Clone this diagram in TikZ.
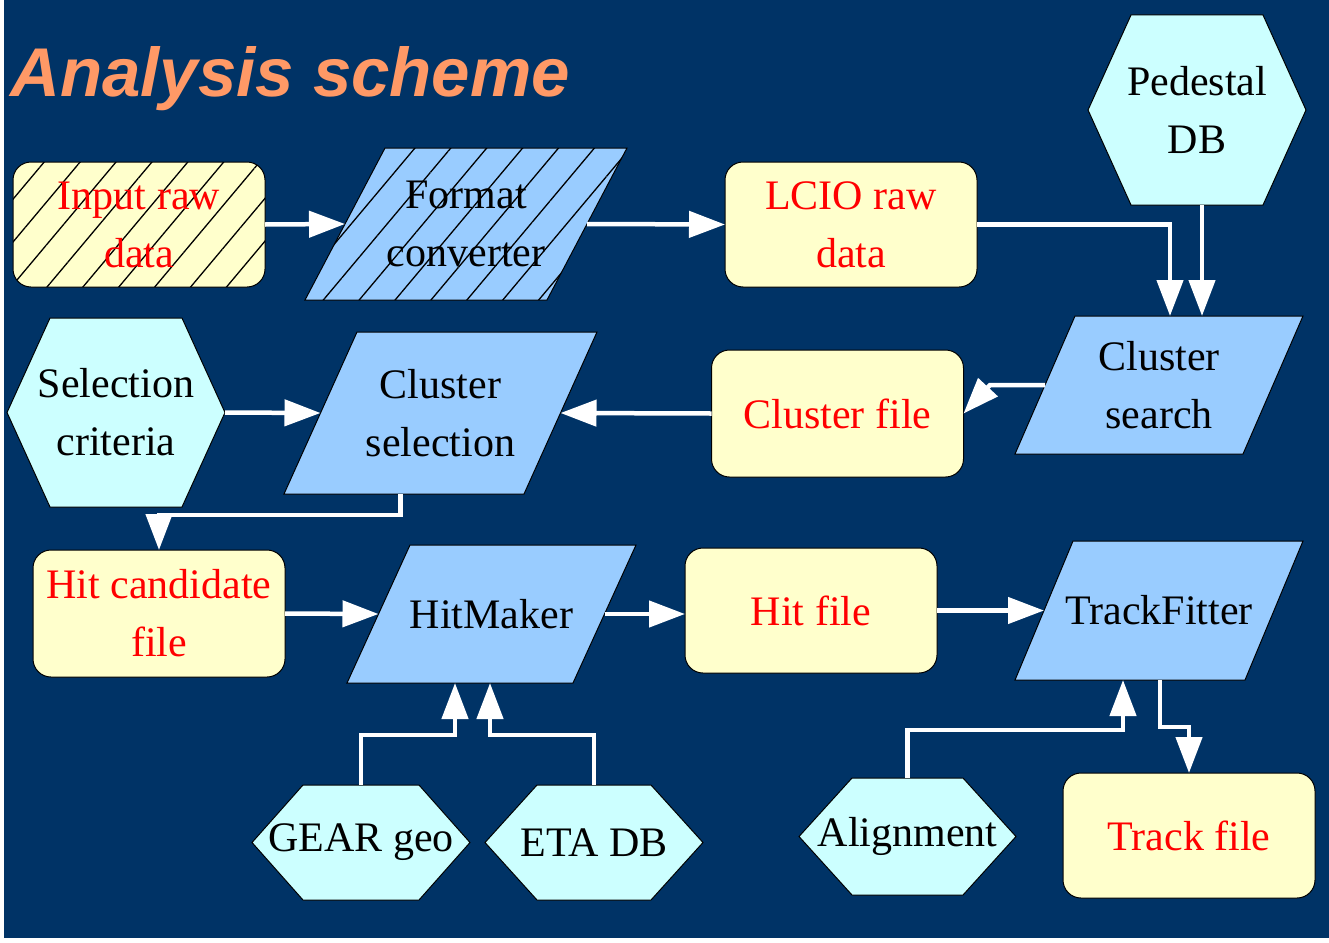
\documentclass[tikz,border=0pt]{standalone}
\usepackage{fontspec}
\setmainfont{Liberation Serif}
\setsansfont{Liberation Sans}
\usetikzlibrary{arrows.meta,patterns.meta,backgrounds}

\definecolor{navy}{HTML}{003366}
\definecolor{filefill}{HTML}{FFFFCC}
\definecolor{parablue}{HTML}{99CCFF}
\definecolor{hexcyan}{HTML}{CCFFFF}
\definecolor{titleorange}{HTML}{FF9966}
\definecolor{filered}{HTML}{FF0000}

\tikzset{
  lbl/.style={inner sep=0pt, outer sep=0pt, align=center,
    font=\fontsize{42}{58}\selectfont, text=black},
  filebox/.style={lbl, draw=black, line width=1pt, fill=filefill,
    rounded corners=18pt, text=filered, minimum width=252pt, minimum height=125pt},
  paraface/.style={fill=parablue, draw=black, line width=1pt},
  hexface/.style={fill=hexcyan, draw=black, line width=1pt},
  hatch/.style={postaction={pattern={Lines[angle=50,distance=27.5pt,line width=1.3pt]},
    pattern color=black}},
  flow/.style={draw=white, line width=4.5pt, line join=miter,
    -{Triangle[length=36pt,width=26pt]}}
}

% outline of a slanted process box around a named node
\newcommand\paraOutline[3][]{%
  \filldraw[paraface,#1] ([xshift=#3]#2.north west) -- (#2.north east)
    -- ([xshift=-#3]#2.south east) -- (#2.south west) -- cycle;}
% outline of a hexagonal data source around a named node
\newcommand\hexOutline[2]{%
  \filldraw[hexface] ([xshift=#2]#1.north west) -- ([xshift=-#2]#1.north east)
    -- (#1.east) -- ([xshift=-#2]#1.south east) -- ([xshift=#2]#1.south west)
    -- (#1.west) -- cycle;}

\begin{document}
\begin{tikzpicture}[x=1pt, y=-1pt]
\useasboundingbox (0,0) rectangle (1329,942);
\begin{scope}[on background layer]
  \fill[white] (0,0) rectangle (1329,942);
  \fill[navy] (4,0) rectangle (1329,938);
\end{scope}

% title
\node[anchor=base west, inner sep=0pt, text=titleorange,
  font=\fontsize{69}{74}\sffamily\bfseries\itshape] (title) at (10,96) {Analysis scheme};

% data files
\node[filebox, hatch] (inp) at (139,224.5) {Input raw\\data};
\node[filebox] (lcio) at (851,224.5) {LCIO raw\\data};
\node[filebox, minimum height=127pt] (cf) at (837.5,413.5) {Cluster file};
\node[filebox, minimum height=127pt] (hcf) at (159,613.5) {Hit candidate\\file};
\node[filebox] (hf) at (811,610.5) {Hit file};
\node[filebox] (tfile) at (1189,835.5) {Track file};

% processors
\node[lbl, minimum width=322pt, minimum height=152pt] (fc) at (466,224) {Format\\converter};
\node[lbl, minimum width=288pt, minimum height=138pt] (cs) at (1159,385) {Cluster\\search};
\node[lbl, minimum width=313pt, minimum height=162pt] (csel) at (440.5,413) {Cluster\\selection};
\node[lbl, minimum width=289pt, minimum height=138pt] (hm) at (491.5,614) {HitMaker};
\node[lbl, minimum width=288pt, minimum height=139pt] (tf) at (1159,610.5) {TrackFitter};

% external inputs
\node[lbl, minimum width=218pt, minimum height=190pt] (ped) at (1197,110) {Pedestal\\DB};
\node[lbl, minimum width=218pt, minimum height=189pt] (crit) at (116,412.5) {Selection\\criteria};
\node[lbl, minimum width=218pt, minimum height=115pt] (gear) at (361,842.5) {GEAR geo};
\node[lbl, minimum width=218pt, minimum height=115pt] (eta) at (594,842.5) {ETA DB};
\node[lbl, minimum width=217pt, minimum height=117pt] (ali) at (907.5,836.5) {Alignment};

\begin{scope}[on background layer]
  \paraOutline[hatch]{fc}{80pt}
  \paraOutline{cs}{60pt}
  \paraOutline{csel}{73pt}
  \paraOutline{hm}{63pt}
  \paraOutline{tf}{58pt}
  \hexOutline{ped}{43pt}
  \hexOutline{crit}{43pt}
  \hexOutline{gear}{51pt}
  \hexOutline{eta}{52pt}
  \hexOutline{ali}{53pt}
\end{scope}

% data flow
\draw[flow] (inp.east) -- ([xshift=40pt]fc.west);
\draw[flow] ([xshift=-40pt]fc.east) -- (lcio.west);
\draw[flow] (lcio.east) -| ([xshift=11pt]cs.north);
\draw[flow] ([xshift=5pt]ped.south) -- ([xshift=43pt]cs.north);
\draw[flow] ([xshift=30pt]cs.west) -- ++(-55,0) -- (cf.east);
\draw[flow] (cf.west) -- ([xshift=-36.5pt]csel.east);
\draw[flow] (crit.east) -- ([xshift=36.5pt]csel.west);
\draw[flow] ([xshift=-40pt]csel.south) |- ([yshift=35pt]hcf.north) -- (hcf.north);
\draw[flow] (hcf.east) -- ([xshift=31.5pt]hm.west);
\draw[flow] ([xshift=-31.5pt]hm.east) -- (hf.west |- hm.east);
\draw[flow] (hf.east) -- ([xshift=29pt]tf.west);
\draw[flow] (gear.north) -- ++(0,-50) -| ([xshift=-36.5pt]hm.south);
\draw[flow] (eta.north) -- ++(0,-50) -| ([xshift=-1.5pt]hm.south);
\draw[flow] (ali.north) -- ++(0,-48) -| ([xshift=-36pt]tf.south);
\draw[flow] ([xshift=1pt]tf.south) -- ++(0,47) -| (tfile.north);
\end{tikzpicture}
\end{document}
